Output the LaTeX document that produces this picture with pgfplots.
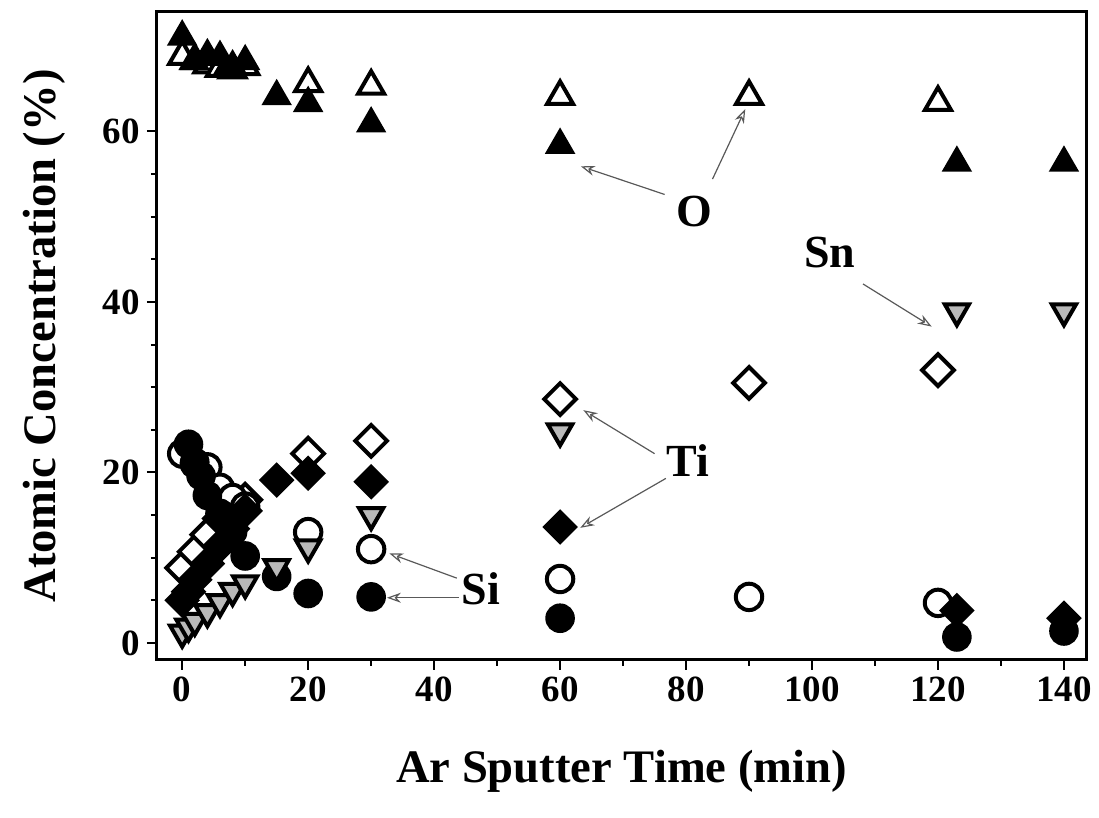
\documentclass[border=0pt]{standalone}
\usepackage{fontspec}
\setmainfont{Liberation Serif}
\usepackage{pgfplots}
\pgfplotsset{compat=1.18}
\usetikzlibrary{arrows.meta}
\begin{document}
\begin{tikzpicture}
\useasboundingbox (-78.5pt,-79pt) rectangle (471pt,330pt);
\begin{axis}[
 at={(0pt,0pt)}, anchor=south west,
 scale only axis, width=464.5pt, height=324pt,
 xmin=-4, xmax=143.5, ymin=-2, ymax=74,
 xtick={0,20,...,140}, ytick={0,20,40,60},
 minor x tick num=1, minor y tick num=3,
 tick align=outside, xtick pos=bottom, ytick pos=left,
 major tick length=5pt, minor tick length=3pt,
 every tick/.style={black, line width=1pt},
 axis line style={line width=1.5pt},
 ticklabel style={font=\bfseries\fontsize{18.5}{18.5}\selectfont},
 /pgf/number format/assume math mode=true,
 xlabel={Ar Sputter Time (min)}, ylabel={Atomic Concentration (\%)},
 label style={font=\bfseries\fontsize{23.3}{24}\selectfont},
 xlabel style={yshift=-17pt},
 ylabel style={yshift=12pt},
 clip=false,
 opentri/.style={only marks, mark=triangle*, mark size=7.5pt, mark options={fill=white, draw=black, line width=2pt}},
 filltri/.style={only marks, mark=triangle*, mark size=7.6pt, mark options={fill=black, draw=black, line width=1.2pt}},
 opendia/.style={only marks, mark=square*, mark size=5.6pt, mark options={rotate=45, fill=white, draw=black, line width=2pt}},
 filldia/.style={only marks, mark=square*, mark size=5.7pt, mark options={rotate=45, fill=black, draw=black, line width=1.2pt}},
 opencirc/.style={only marks, mark=*, mark size=6.6pt, mark options={fill=white, draw=black, line width=2pt}},
 fillcirc/.style={only marks, mark=*, mark size=6.8pt, mark options={fill=black, draw=black, line width=1.2pt}},
 sntri/.style={only marks, mark=triangle*, mark size=7pt, mark options={rotate=180, fill=gray!55, draw=black, line width=2pt}},
]
% Sample A (open markers)
\addplot[opentri] coordinates {(0,68.8)(2,68.3)(4,67.8)(6,67.4)(8,67.2)(10,67.6)(20,65.6)(30,65.3)(60,64.1)(90,64.1)(120,63.4)};
\addplot[opendia] coordinates {(0,8.8)(2,10.7)(4,12.7)(6,14.6)(8,16.0)(10,16.8)(20,22.2)(30,23.7)(60,28.6)(90,30.5)(120,32.0)};
\addplot[opencirc] coordinates {(0,22.2)(2,21.0)(4,20.6)(6,18.2)(8,17.0)(10,16.0)(20,13.0)(30,11.0)(60,7.5)(90,5.4)(120,4.7)};
% Sample B (filled markers)
\addplot[filltri] coordinates {(0,71.1)(2,68.2)(4,68.9)(6,68.7)(7,67.3)(8,67.6)(10,68.2)(15,64.1)(20,63.3)(30,60.9)(60,58.4)(123,56.3)(140,56.3)};
\addplot[filldia] coordinates {(0,5.0)(1,6.0)(2,7.4)(4,9.3)(6,11.4)(8,13.4)(10,15.5)(15,19.1)(20,19.9)(30,18.9)(60,13.6)(123,3.8)(140,2.9)};
\addplot[fillcirc] coordinates {(1,23.3)(2,21.2)(3,19.6)(4,17.3)(6,15.2)(8,13.0)(10,10.2)(15,7.8)(20,5.8)(30,5.4)(60,2.9)(123,0.7)(140,1.4)};
\addplot[sntri] coordinates {(0,1.2)(1,1.9)(2,2.6)(4,3.6)(6,4.8)(8,6.1)(10,7.0)(15,8.9)(20,11.2)(30,15.0)(60,24.8)(123,38.9)(140,38.9)};
% annotations
\tikzset{ann/.style={draw=black!65, line width=0.6pt, -{Stealth[open, length=7pt, width=5pt]}},
         lab/.style={font=\bfseries\fontsize{23}{23}\selectfont, inner sep=0pt}}
\node[lab] at (axis cs:81.4,50.6) {O};
\draw[ann] (axis cs:76.6,52.6) -- (axis cs:63.3,55.9);
\draw[ann] (axis cs:84.2,54.4) -- (axis cs:89.4,62.6);
\node[lab] at (axis cs:102.8,45.8) {Sn};
\draw[ann] (axis cs:108.1,42.1) -- (axis cs:119.0,37.1);
\node[lab] at (axis cs:80.3,21.4) {Ti};
\draw[ann] (axis cs:75.0,22.2) -- (axis cs:63.7,27.3);
\draw[ann] (axis cs:76.8,19.3) -- (axis cs:63.2,13.5);
\node[lab] at (axis cs:47.4,6.4) {Si};
\draw[ann] (axis cs:43.6,7.6) -- (axis cs:32.9,10.5);
\draw[ann] (axis cs:43.9,5.3) -- (axis cs:32.5,5.3);
\end{axis}
\end{tikzpicture}
\end{document}
